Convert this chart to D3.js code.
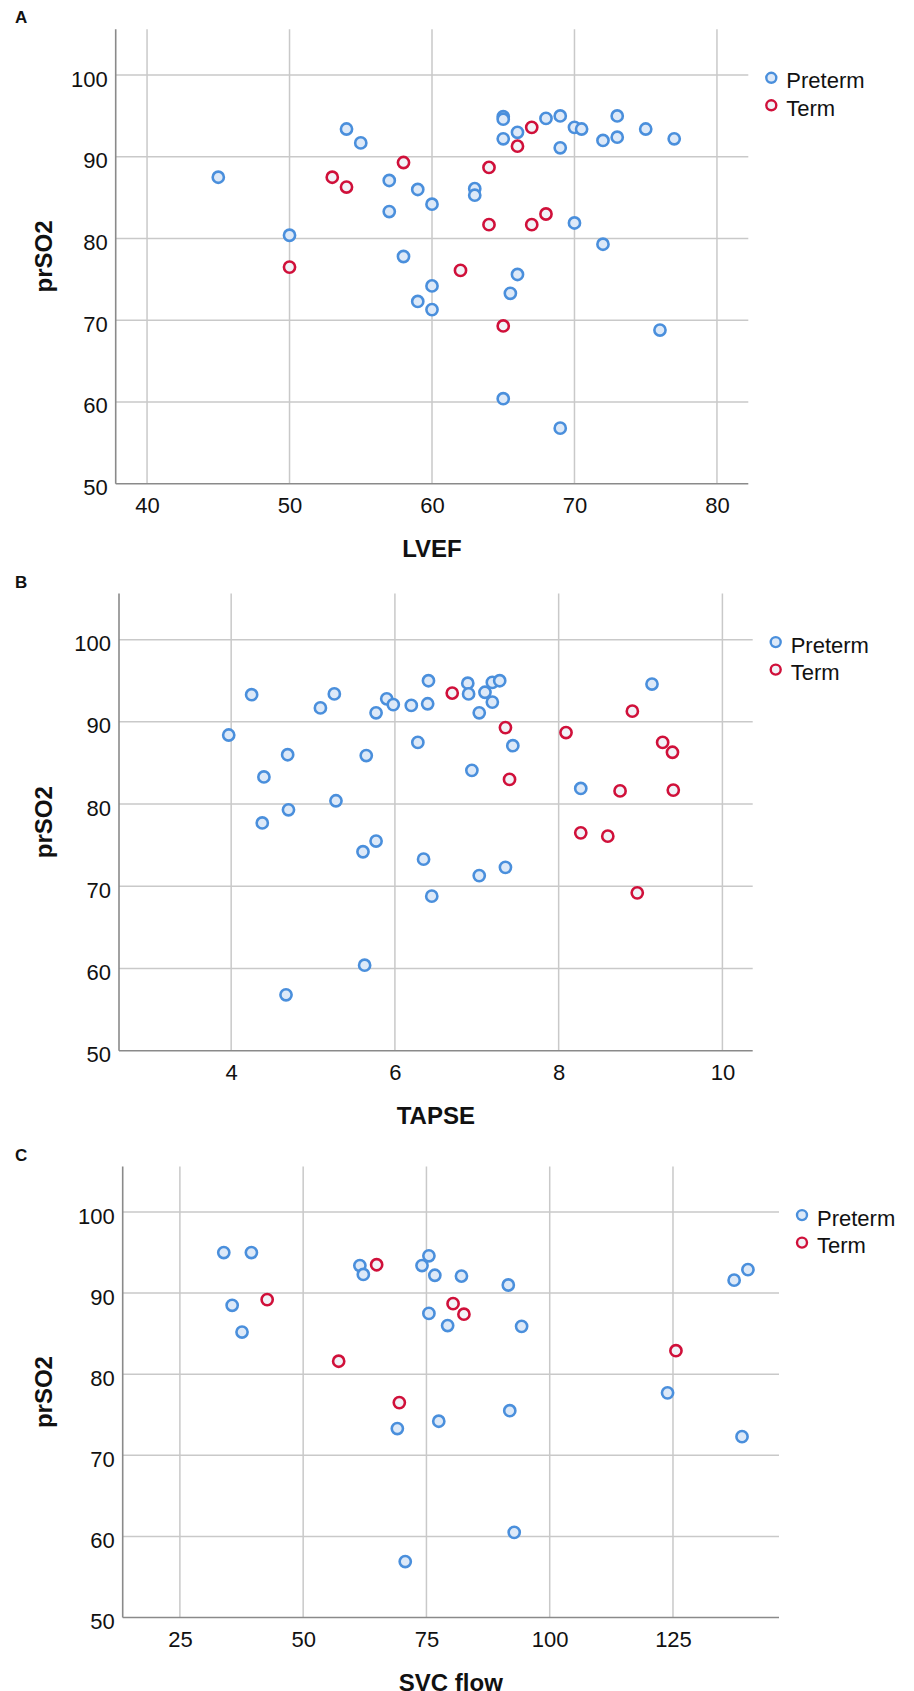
<!DOCTYPE html>
<html>
<head>
<meta charset="utf-8">
<script src="https://cdn.jsdelivr.net/npm/d3@7"></script>
<style>
  html, body { margin: 0; padding: 0; background: #fff; }
  svg { display: block; }
  text { font-family: "Liberation Sans", Arial, sans-serif; fill: #111; }
</style>
</head>
<body>
<div id="chart"></div>
<script>
// values (x, prSO2)
const lvefPreterm = [
  [45, 87.5], [54, 93.4], [55, 91.7], [57, 87.1], [59, 86.0], [60, 84.2], [57, 83.3],
  [50, 80.4], [58, 77.8], [60, 74.2], [59, 72.3], [60, 71.3], [65, 94.9], [65, 94.6],
  [66, 93.0], [68, 94.7], [69, 95.0], [70, 93.6], [70.5, 93.4], [73, 95.0], [65, 92.2],
  [69, 91.1], [72, 92.0], [73, 92.4], [75, 93.4], [77, 92.2], [63, 86.1], [63, 85.3],
  [70, 81.9], [72, 79.3], [66, 75.6], [65.5, 73.3], [76, 68.8], [65, 60.4], [69, 56.8]
];
const lvefTerm = [
  [58, 89.3], [53, 87.5], [54, 86.3], [50, 76.5], [62, 76.1], [67, 93.6],
  [66, 91.3], [64, 88.7], [64, 81.7], [67, 81.7], [68, 83.0], [65, 69.3]
];

const tapsePreterm = [
  [4.25, 93.3], [3.97, 88.4], [5.09, 91.7], [5.26, 93.4], [5.90, 92.8], [5.98, 92.1],
  [5.77, 91.1], [6.20, 92.0], [6.41, 95.0], [6.40, 92.2], [6.28, 87.5], [4.69, 86.0],
  [5.65, 85.9], [4.40, 83.3], [5.28, 80.4], [4.70, 79.3], [4.38, 77.7], [5.77, 75.5],
  [5.61, 74.2], [6.35, 73.3], [6.45, 68.8], [5.63, 60.4], [4.67, 56.8], [6.89, 94.7],
  [6.90, 93.4], [7.19, 94.8], [7.28, 95.0], [7.10, 93.6], [7.19, 92.4], [7.03, 91.1],
  [7.44, 87.1], [6.94, 84.1], [8.27, 81.9], [9.14, 94.6], [7.35, 72.3], [7.03, 71.3]
];
const tapseTerm = [
  [6.70, 93.5], [7.35, 89.3], [7.40, 83.0], [8.09, 88.7], [8.90, 91.3], [9.27, 87.5],
  [9.39, 86.3], [8.75, 81.6], [9.40, 81.7], [8.27, 76.5], [8.60, 76.1], [8.96, 69.2]
];

const svcPreterm = [
  [33.9, 95.0], [39.5, 95.0], [35.6, 88.5], [37.6, 85.2], [61.5, 93.4], [62.2, 92.3],
  [74.1, 93.4], [75.5, 94.6], [76.7, 92.2], [75.5, 87.5], [79.3, 86.0], [69.1, 73.3],
  [77.5, 74.2], [70.7, 56.9], [82.1, 92.1], [91.6, 91.0], [94.3, 85.9], [123.9, 77.7],
  [91.9, 75.5], [92.8, 60.5], [137.4, 91.6], [140.2, 92.9], [139.0, 72.3]
];
const svcTerm = [
  [42.7, 89.2], [64.9, 93.5], [57.2, 81.6], [69.5, 76.5], [80.4, 88.7], [82.6, 87.4], [125.6, 82.9]
];

const yTicks = [50, 60, 70, 80, 90, 100];
const lvefTicks = [40, 50, 60, 70, 80];
const tapseTicks = [4, 6, 8, 10];
const svcTicks = [25, 50, 75, 100, 125];
const groups = ["Preterm", "Term"];

const W = 914, H = 1691;
const colors = { Preterm: "#4a8fdc", Term: "#d0103a" };
const fills = { Preterm: "#dde9f8", Term: "#f1f3f8" };

const panels = [
  { label: "A", title: "LVEF", box: { l: 115.7, r: 748.3, t: 29.3, b: 483.7 }, xDom: [37.8, 82.2],
    ticks: lvefTicks, series: { Preterm: lvefPreterm, Term: lvefTerm } },
  { label: "B", title: "TAPSE", box: { l: 119, r: 752.7, t: 593.6, b: 1050.7 }, xDom: [2.63, 10.37],
    ticks: tapseTicks, series: { Preterm: tapsePreterm, Term: tapseTerm } },
  { label: "C", title: "SVC flow", box: { l: 122.7, r: 779, t: 1166.6, b: 1617.5 }, xDom: [13.4, 146.5],
    ticks: svcTicks, series: { Preterm: svcPreterm, Term: svcTerm } }
];

const svg = d3.select("#chart").append("svg").attr("width", W).attr("height", H);

panels.forEach((p) => {
  const { l, r, t, b } = p.box;
  const x = d3.scaleLinear().domain(p.xDom).range([l, r]);
  const y = d3.scaleLinear().domain([50, 105.6]).range([b, t]);
  const g = svg.append("g");

  // panel letter
  g.append("text").attr("x", 15).attr("y", t - 6)
    .attr("font-size", 17).attr("font-weight", "bold").text(p.label);

  // grid
  g.append("g").selectAll("line.h").data(yTicks.filter((v) => v > 50)).enter().append("line")
    .attr("x1", l).attr("x2", r).attr("y1", (d) => y(d)).attr("y2", (d) => y(d))
    .attr("stroke", "#c9c9c9").attr("stroke-width", 1.5);
  g.append("g").selectAll("line.v").data(p.ticks).enter().append("line")
    .attr("x1", (d) => x(d)).attr("x2", (d) => x(d)).attr("y1", t).attr("y2", b)
    .attr("stroke", "#c9c9c9").attr("stroke-width", 1.5);

  // axes (labels only, no ticks)
  const xAxis = d3.axisBottom(x).tickValues(p.ticks).tickSize(0).tickPadding(14);
  const yAxis = d3.axisLeft(y).tickValues(yTicks).tickSize(0).tickPadding(8);
  const gx = g.append("g").attr("transform", `translate(0,${b})`).call(xAxis);
  const gy = g.append("g").attr("transform", `translate(${l},0)`).call(yAxis);
  [gx, gy].forEach((ax) => {
    ax.select(".domain").attr("stroke", "#8a8a8a").attr("stroke-width", 1.6);
    ax.selectAll("text").attr("font-size", 22).attr("fill", "#111")
      .attr("font-family", '"Liberation Sans", Arial, sans-serif');
  });
  gy.selectAll("text").attr("dy", "0.5em");
  gx.select(".domain").attr("d", `M${l},0H${r}`);
  gy.select(".domain").attr("d", `M0,${b}V${t}`);

  // axis titles
  g.append("text").attr("x", (l + r) / 2).attr("y", b + 73)
    .attr("text-anchor", "middle").attr("font-size", 24).attr("font-weight", "bold").text(p.title);
  g.append("text")
    .attr("transform", `translate(${52},${(t + b) / 2}) rotate(-90)`)
    .attr("text-anchor", "middle").attr("font-size", 24).attr("font-weight", "bold").text("prSO2");

  // points
  groups.forEach((grp) => {
    g.append("g").selectAll("circle").data(p.series[grp]).enter().append("circle")
      .attr("cx", (d) => x(d[0])).attr("cy", (d) => y(d[1])).attr("r", 5.6)
      .attr("fill", fills[grp]).attr("stroke", colors[grp]).attr("stroke-width", 2.6);
  });

  // legend
  const lg = g.append("g").attr("transform", `translate(${r + 23},${t + 48.5})`);
  groups.forEach((grp, i) => {
    lg.append("circle").attr("cx", 0).attr("cy", i * 27.5).attr("r", 5)
      .attr("fill", fills[grp]).attr("stroke", colors[grp]).attr("stroke-width", 2.4);
    lg.append("text").attr("x", 15).attr("y", i * 27.5 + 10.5)
      .attr("font-size", 22).text(grp);
  });
});
</script>
</body>
</html>
